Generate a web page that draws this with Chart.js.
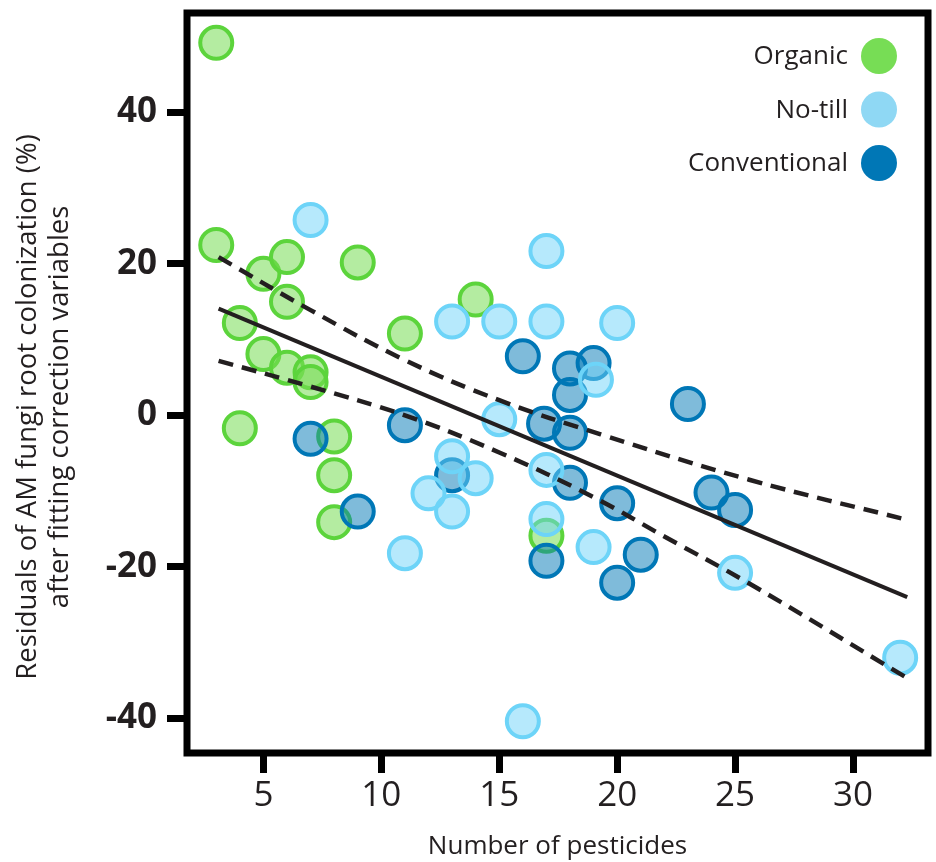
<!DOCTYPE html>
<html>
<head>
<meta charset="utf-8">
<script src="https://cdn.jsdelivr.net/npm/chart.js@4.4.1/dist/chart.umd.min.js"></script>
<style>
  body { margin: 0; background: #fff; }
</style>
</head>
<body>
<canvas id="ourChart" width="936" height="862"></canvas>
<script>
const seriesNames = ["Organic", "No-till", "Conventional"];
const yTitle = ["Residuals of AM fungi root colonization (%)", "after fitting correction variables"];

const organicX = [3, 3, 5, 6, 6, 9, 4, 5, 6, 7, 7, 4, 8, 8, 8, 11, 14, 17];
const organicY = [49.2, 22.5, 18.7, 20.9, 15.0, 20.2, 12.2, 8.1, 6.3, 5.7, 4.4, -1.7, -2.8, -7.9, -14.1, 10.8, 15.3, -15.9];

const noTillX = [7, 17, 13, 15, 17, 20, 19.1, 15, 13, 14, 12, 13, 17, 17, 19, 11, 25, 16, 32];
const noTillY = [25.8, 21.7, 12.4, 12.4, 12.4, 12.2, 4.7, -0.5, -5.4, -8.3, -10.3, -12.7, -7.2, -13.7, -17.4, -18.2, -20.8, -40.4, -32.0];

const convX = [16, 18, 19, 18, 23, 16.9, 18, 11, 7, 13, 18, 20, 9, 24, 25, 17, 21, 20];
const convY = [7.8, 6.2, 6.9, 2.7, 1.5, -1.1, -2.3, -1.3, -3.1, -7.9, -8.9, -11.6, -12.7, -10.2, -12.5, -19.2, -18.4, -22.1];

// fitted line and confidence band
const fitX = [3.1, 32.3];
const fitY = [14.1, -24.0];
const upperX = [3.1, 7, 11, 15, 19.3, 25.6, 32.3];
const upperY = [20.9, 13.9, 7.3, 2.0, -2.5, -8.5, -13.8];
const lowerX = [3.1, 7, 11, 15, 19, 22, 25.6, 32.3];
const lowerY = [7.2, 3.8, 0.0, -4.9, -10.8, -16.0, -22.2, -34.7];

const legendColors = ['#77dd55', '#8fd8f4', '#0077b6'];

function toPoints(xs, ys) {
    return xs.map((x, i) => ({x: x, y: ys[i]}));
}

const frameAndLegend = {
    id: 'frameAndLegend',
    afterDatasetsDraw(chart) {
        const {ctx, chartArea: a} = chart;
        ctx.save();
        ctx.lineWidth = 7;
        ctx.strokeStyle = '#000';
        ctx.strokeRect(a.left, a.top, a.right - a.left, a.bottom - a.top);

        ctx.font = '500 26px "Open Sans"';
        ctx.textAlign = 'right';
        ctx.textBaseline = 'middle';
        seriesNames.forEach((name, i) => {
            const cy = a.top + 43 + i * 53.5;
            const cx = a.right - 49;
            ctx.fillStyle = legendColors[i];
            ctx.beginPath();
            ctx.arc(cx, cy, 18, 0, Math.PI * 2);
            ctx.fill();
            ctx.fillStyle = '#231f20';
            ctx.fillText(name, cx - 31, cy + 1);
        });

        // y axis title, two lines, rotated
        ctx.translate(28, 407);
        ctx.rotate(-Math.PI / 2);
        ctx.font = '27.5px "Open Sans"';
        ctx.textAlign = 'center';
        ctx.fillStyle = '#231f20';
        yTitle.forEach((line, i) => ctx.fillText(line, 0, i * 32));
        ctx.restore();
    }
};

const lineStyle = {
    showLine: true,
    pointRadius: 0,
    pointHoverRadius: 0,
    borderColor: '#231f20',
    borderWidth: 4.5,
    fill: false,
    order: 0
};

new Chart(document.getElementById('ourChart'), {
    type: 'scatter',
    data: {
        datasets: [
            {
                label: 'fit',
                data: toPoints(fitX, fitY),
                ...lineStyle,
                borderWidth: 4
            },
            {
                label: 'upper',
                data: toPoints(upperX, upperY),
                ...lineStyle,
                borderDash: [15, 9],
                tension: 0.4
            },
            {
                label: 'lower',
                data: toPoints(lowerX, lowerY),
                ...lineStyle,
                borderDash: [15, 9],
                tension: 0.4
            },
            {
                label: seriesNames[1],
                data: toPoints(noTillX, noTillY),
                backgroundColor: 'rgba(110, 212, 250, 0.5)',
                borderColor: '#6dd4f8',
                borderWidth: 4,
                pointRadius: 16,
                order: 1
            },
            {
                label: seriesNames[2],
                data: toPoints(convX, convY),
                backgroundColor: 'rgba(0, 119, 182, 0.5)',
                borderColor: '#0077b6',
                borderWidth: 4,
                pointRadius: 16,
                order: 2
            },
            {
                label: seriesNames[0],
                data: toPoints(organicX, organicY),
                backgroundColor: 'rgba(118, 221, 84, 0.55)',
                borderColor: '#5cd43c',
                borderWidth: 4,
                pointRadius: 16,
                order: 3
            }
        ]
    },
    options: {
        responsive: false,
        animation: false,
        layout: {
            autoPadding: false,
            padding: {top: 13, right: 8, left: 0, bottom: 0}
        },
        plugins: {
            legend: {display: false},
            tooltip: {enabled: false}
        },
        scales: {
            x: {
                type: 'linear',
                min: 1.76,
                max: 33.18,
                afterFit(scale) {
                    scale.height = 109;
                    scale.paddingLeft = 0;
                    scale.paddingRight = 0;
                },
                border: {display: false},
                grid: {
                    drawOnChartArea: false,
                    drawTicks: true,
                    tickLength: 20,
                    tickWidth: 7,
                    color: '#000'
                },
                ticks: {
                    stepSize: 5,
                    includeBounds: false,
                    padding: 2,
                    color: '#231f20',
                    font: {family: 'Open Sans', size: 35}
                },
                title: {
                    display: true,
                    text: 'Number of pesticides',
                    color: '#231f20',
                    font: {family: 'Open Sans', size: 26, lineHeight: 1.2},
                    padding: {top: 0, bottom: 0}
                }
            },
            y: {
                type: 'linear',
                min: -44.59,
                max: 53.14,
                afterFit(scale) {
                    scale.width = 187;
                    scale.paddingTop = 0;
                    scale.paddingBottom = 0;
                },
                border: {display: false},
                grid: {
                    drawOnChartArea: false,
                    drawTicks: true,
                    tickLength: 20,
                    tickWidth: 7,
                    color: '#000'
                },
                ticks: {
                    stepSize: 20,
                    includeBounds: false,
                    padding: 10,
                    color: '#231f20',
                    font: {family: 'Open Sans', size: 35, weight: 'bold'}
                }
            }
        }
    },
    plugins: [frameAndLegend]
});
</script>
</body>
</html>
